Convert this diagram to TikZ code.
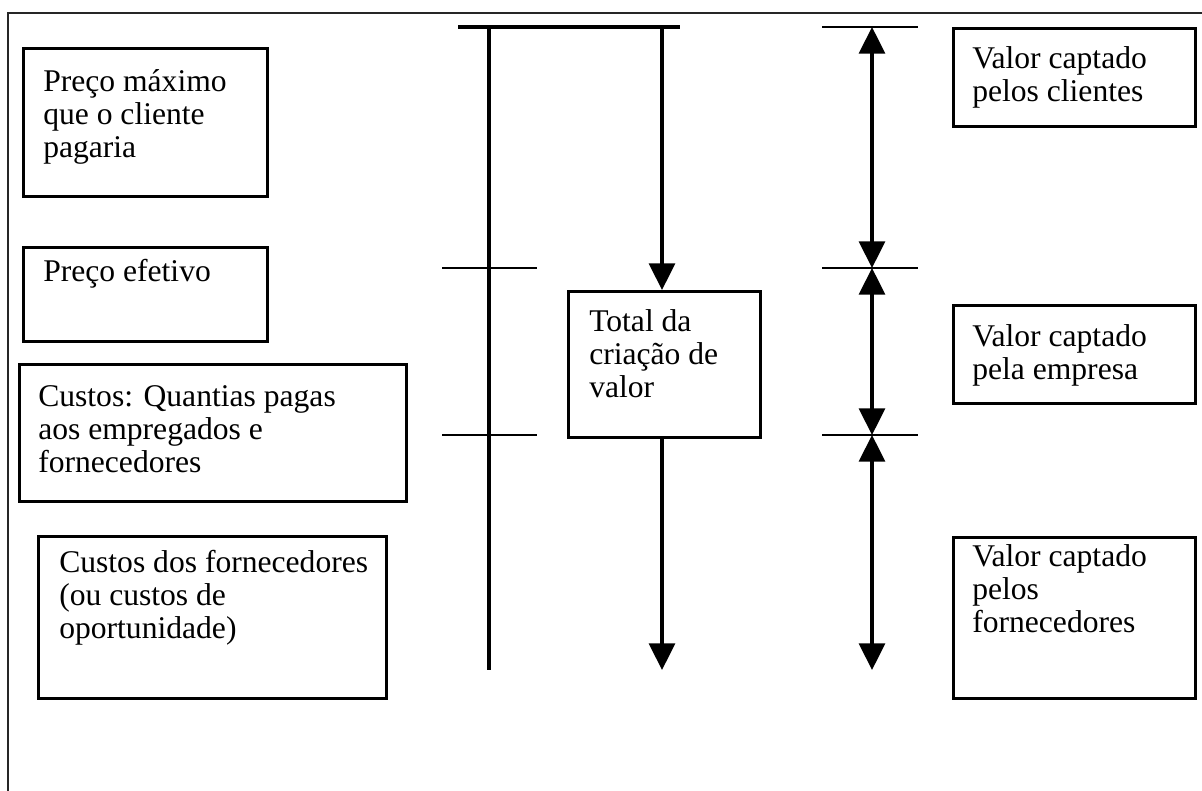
\documentclass[tikz,border=0pt]{standalone}
\usepackage{fontspec}
\setmainfont{Liberation Serif}
\usetikzlibrary{arrows.meta}

\begin{document}
\begin{tikzpicture}[x=0.75pt,y=-0.75pt,
  box/.style={draw, line width=2pt, rectangle, inner sep=0pt, anchor=north west},
  txt/.style={anchor=base west, inner sep=0pt, font=\fontsize{23.7}{24.75}\selectfont},
  axis/.style={line width=2.3pt},
  tick/.style={line width=1.7pt},
  tipend/.style={-{Triangle[length=20pt,width=19.5pt]}},
  tipboth/.style={{Triangle[length=20pt,width=19.5pt]}-{Triangle[length=20pt,width=19.5pt]}},
  frame/.style={line width=2pt, black!85}]
\useasboundingbox (0,0) rectangle (1202,791);

% outer frame (top and left edges)
\coordinate (frameBL) at (8,791);
\coordinate (frameTL) at (8,13);
\coordinate (frameTR) at (1202,13);
\draw[frame] (frameBL) -- (frameTL) -- (frameTR);

% left-hand boxes
\node[box, minimum width=244*0.75pt, minimum height=148*0.75pt] (pmax) at (22,47) {};
\node[txt] (pmaxT) at (43,92) {\begin{tabular}[t]{@{}l@{}}Preço máximo\\que o cliente\\pagaria\end{tabular}};

\node[box, minimum width=244*0.75pt, minimum height=94*0.75pt] (pef) at (22,246) {};
\node[txt] (pefT) at (43,282) {Preço efetivo};

\node[box, minimum width=387*0.75pt, minimum height=137*0.75pt] (cust) at (18,363) {};
\node[txt] (custT) at (38,406) {\begin{tabular}[t]{@{}l@{}}Custos: Quantias pagas\\aos empregados e\\fornecedores\end{tabular}};

\node[box, minimum width=348*0.75pt, minimum height=162*0.75pt] (cforn) at (37,535) {};
\node[txt] (cfornT) at (59,572) {\begin{tabular}[t]{@{}l@{}}Custos dos fornecedores\\(ou custos de\\oportunidade)\end{tabular}};

% central box
\node[box, minimum width=192*0.75pt, minimum height=146*0.75pt] (total) at (567,290) {};
\node[txt] (totalT) at (589,331) {\begin{tabular}[t]{@{}l@{}}Total da\\criação de\\valor\end{tabular}};

% right-hand boxes
\node[box, minimum width=242*0.75pt, minimum height=98*0.75pt] (vcli) at (952,27) {};
\node[txt] (vcliT) at (972,69) {\begin{tabular}[t]{@{}l@{}}Valor captado\\pelos clientes\end{tabular}};

\node[box, minimum width=242*0.75pt, minimum height=98*0.75pt] (vemp) at (952,304) {};
\node[txt] (vempT) at (972,346) {\begin{tabular}[t]{@{}l@{}}Valor captado\\pela empresa\end{tabular}};

\node[box, minimum width=242*0.75pt, minimum height=161*0.75pt] (vforn) at (952,536) {};
\node[txt] (vfornT) at (972,566) {\begin{tabular}[t]{@{}l@{}}Valor captado\\pelos\\fornecedores\end{tabular}};

% price scale on the left
\coordinate (scaleTop) at (489,27);
\coordinate (scaleBot) at (489,670);
\coordinate (barL) at (458,27);
\coordinate (barR) at (680,27);
\coordinate (pTickL) at (442,268);
\coordinate (pTickR) at (537,268);
\coordinate (cTickL) at (442,435);
\coordinate (cTickR) at (537,435);
\draw[axis] (scaleTop) -- (scaleBot);
\draw[axis] (barL) -- (barR);
\draw[tick] (pTickL) -- (pTickR);
\draw[tick] (cTickL) -- (cTickR);

% total value creation arrow
\coordinate (cTop) at (662,27);
\coordinate (cBot) at (662,670);
\draw[axis, tipend] (cTop) -- (cTop |- total.north);
\draw[axis, tipend] (cTop |- total.south) -- (cBot);

% value capture arrows on the right
\coordinate (r0) at (872,27);
\coordinate (r1) at (872,268);
\coordinate (r2) at (872,435);
\coordinate (r3) at (872,670);
\draw[tick] (822,27) coordinate (rt0L) -- (918,27) coordinate (rt0R);
\draw[tick] (822,268) coordinate (rt1L) -- (918,268) coordinate (rt1R);
\draw[tick] (822,435) coordinate (rt2L) -- (918,435) coordinate (rt2R);
\draw[axis, tipboth] (r0) -- (r1);
\draw[axis, tipboth] (r1) -- (r2);
\draw[axis, tipboth] (r2) -- (r3);
\end{tikzpicture}
\end{document}
